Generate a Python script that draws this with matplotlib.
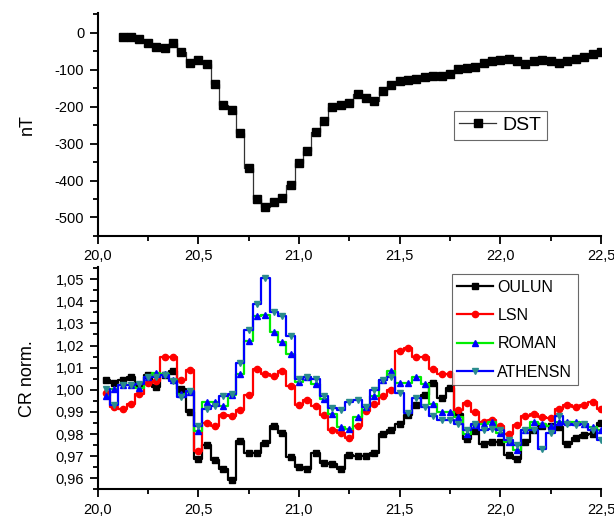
import matplotlib
matplotlib.use('Agg')
import matplotlib.pyplot as plt
from matplotlib.ticker import MultipleLocator, FuncFormatter
import numpy as np

# DST, hourly, from hour 3 of day 20 to hour 60
dst_hours = list(range(3, 61))
dst = [-11, -11, -18, -29, -38, -43, -27, -53, -83, -74,
       -85, -140, -197, -210, -272, -367, -449, -471, -458, -447,
       -412, -352, -319, -270, -240, -200, -195, -191, -167, -178,
       -184, -159, -141, -132, -128, -126, -121, -117, -117, -112,
       -98, -95, -92, -83, -78, -74, -71, -78, -85, -78,
       -74, -76, -81, -76, -72, -67, -58, -53]

# normalised cosmic ray counts, hourly from hour 1 to hour 60
cr_hours = list(range(1, 61))
oulun = [1.0044, 1.0031, 1.0042, 1.0058, 1.0021, 1.0066, 1.0013, 1.0066, 1.0087, 1.0005,
         0.9900, 0.9686, 0.9750, 0.9684, 0.9642, 0.9593, 0.9770, 0.9712, 0.9715, 0.9760,
         0.9836, 0.9806, 0.9694, 0.9652, 0.9640, 0.9715, 0.9667, 0.9664, 0.9640, 0.9706,
         0.9701, 0.9701, 0.9715, 0.9799, 0.9820, 0.9844, 0.9884, 0.9932, 0.9977, 1.0032,
         0.9964, 1.0006, 0.9892, 0.9779, 0.9815, 0.9757, 0.9764, 0.9764, 0.9704, 0.9689,
         0.9764, 0.9820, 0.9835, 0.9835, 0.9832, 0.9757, 0.9784, 0.9794, 0.9802, 0.9850]
lsn = [0.9984, 0.9922, 0.9914, 0.9934, 0.9982, 1.0030, 1.0040, 1.0150, 1.0150, 1.0042,
       1.0090, 0.9722, 0.9852, 0.9836, 0.9888, 0.9881, 0.9907, 0.9975, 1.0092, 1.0072,
       1.0062, 1.0087, 1.0015, 0.9932, 0.9956, 0.9925, 0.9887, 0.9817, 0.9806, 0.9780,
       0.9835, 0.9904, 0.9937, 0.9970, 0.9997, 1.0174, 1.0188, 1.0150, 1.0150, 1.0092,
       1.0072, 1.0072, 0.9910, 0.9940, 0.9899, 0.9854, 0.9862, 0.9835, 0.9802, 0.9839,
       0.9881, 0.9892, 0.9877, 0.9872, 0.9914, 0.9929, 0.9922, 0.9929, 0.9947, 0.9914]
roman = [0.9970, 1.0002, 1.0020, 1.0020, 1.0009, 1.0060, 1.0077, 1.0072, 1.0042, 0.9982,
         0.9989, 0.9812, 0.9944, 0.9944, 0.9926, 0.9976, 1.0070, 1.0222, 1.0335, 1.0340,
         1.0260, 1.0215, 1.0162, 1.0035, 1.0060, 1.0027, 0.9959, 0.9892, 0.9832, 0.9822,
         0.9877, 0.9922, 0.9970, 1.0042, 1.0087, 1.0032, 1.0032, 1.0060, 1.0024, 0.9937,
         0.9899, 0.9899, 0.9877, 0.9802, 0.9840, 0.9844, 0.9854, 0.9805, 0.9764, 0.9727,
         0.9820, 0.9854, 0.9847, 0.9835, 0.9854, 0.9854, 0.9854, 0.9844, 0.9832, 0.9820]
athensn = [1.0005, 0.9929, 1.0020, 1.0020, 1.0027, 1.0060, 1.0060, 1.0065, 1.0039, 0.9967,
           0.9994, 0.9835, 0.9915, 0.9925, 0.9970, 0.9980, 1.0122, 1.0270, 1.0387, 1.0506,
           1.0350, 1.0335, 1.0245, 1.0050, 1.0060, 1.0050, 0.9970, 0.9917, 0.9907, 0.9944,
           0.9952, 0.9922, 0.9997, 1.0042, 1.0060, 0.9985, 0.9895, 0.9962, 0.9922, 0.9881,
           0.9862, 0.9865, 0.9847, 0.9820, 0.9844, 0.9820, 0.9824, 0.9817, 0.9772, 0.9749,
           0.9820, 0.9820, 0.9734, 0.9805, 0.9881, 0.9844, 0.9839, 0.9844, 0.9820, 0.9772]

plt.rcParams['font.family'] = ['Liberation Sans', 'DejaVu Sans']

def comma(v, pos):
    return ('%.1f' % v).replace('.', ',')

def comma2(v, pos):
    return ('%.2f' % v).replace('.', ',')

def style_axes(ax):
    for s in ['top', 'right']:
        ax.spines[s].set_visible(False)
    for s in ['left', 'bottom']:
        ax.spines[s].set_linewidth(1.5)
    ax.tick_params(which='major', direction='out', length=6, width=1.3, labelsize=10.5)
    ax.tick_params(which='minor', direction='out', length=3.5, width=1.3)
    ax.set_xlim(20.0, 22.5)
    ax.xaxis.set_major_locator(MultipleLocator(0.5))
    ax.xaxis.set_minor_locator(MultipleLocator(0.25))
    ax.xaxis.set_major_formatter(FuncFormatter(comma))

fig = plt.figure(figsize=(6.14, 5.19), dpi=100)
ax1 = fig.add_axes([0.1588, 0.5453, 0.82, 0.4297])
ax2 = fig.add_axes([0.1588, 0.0572, 0.82, 0.4283])

t_dst = 20 + np.array(dst_hours) / 24.0
ax1.plot(t_dst, dst, color='#333333', lw=0.9, drawstyle='steps-mid',
         marker='s', ms=6, mfc='black', mec='black', label='DST')
style_axes(ax1)
ax1.set_ylim(-550, 53)
ax1.yaxis.set_major_locator(MultipleLocator(100))
ax1.yaxis.set_minor_locator(MultipleLocator(50))
ax1.yaxis.set_major_formatter(FuncFormatter(lambda v, p: '%d' % v))
ax1.set_ylabel('nT', fontsize=13)
ax1.yaxis.set_label_coords(-0.122, 0.5)
leg1 = ax1.legend(loc='center right', bbox_to_anchor=(0.893, 0.4955), fontsize=14,
                  fancybox=False, edgecolor='#444444', handlelength=1.9,
                  handletextpad=0.3, borderpad=0.3, borderaxespad=0)
leg1.get_frame().set_linewidth(0.8)

t_cr = 20 + np.array(cr_hours) / 24.0
ax2.plot(t_cr, oulun, color='black', lw=1.6, drawstyle='steps-mid',
         marker='s', ms=4, label='OULUN')
ax2.plot(t_cr, lsn, color='#ff0000', lw=1.6, drawstyle='steps-mid',
         marker='o', ms=4.5, label='LSN')
ax2.plot(t_cr, roman, color='#00ee00', lw=1.6, drawstyle='steps-mid',
         marker='^', ms=5, mfc='#0000ff', mec='#0000ff', label='ROMAN')
ax2.plot(t_cr, athensn, color='#0000ff', lw=1.6, drawstyle='steps-mid',
         marker='v', ms=5, mfc='#2a8c8c', mec='#2a8c8c', label='ATHENSN')
style_axes(ax2)
ax2.set_ylim(0.955, 1.0555)
ax2.yaxis.set_major_locator(MultipleLocator(0.01))
ax2.yaxis.set_minor_locator(MultipleLocator(0.005))
ax2.yaxis.set_major_formatter(FuncFormatter(comma2))
ax2.set_ylabel('CR norm.', fontsize=13)
ax2.yaxis.set_label_coords(-0.122, 0.5)
leg2 = ax2.legend(loc='upper right', bbox_to_anchor=(0.954, 0.9685), fontsize=11.5,
                  fancybox=False, edgecolor='#444444', handlelength=2.2,
                  handletextpad=0.3, borderpad=0.35, borderaxespad=0,
                  labelspacing=0.84)
leg2.get_frame().set_linewidth(0.8)

fig.savefig('out.png', dpi=100)
